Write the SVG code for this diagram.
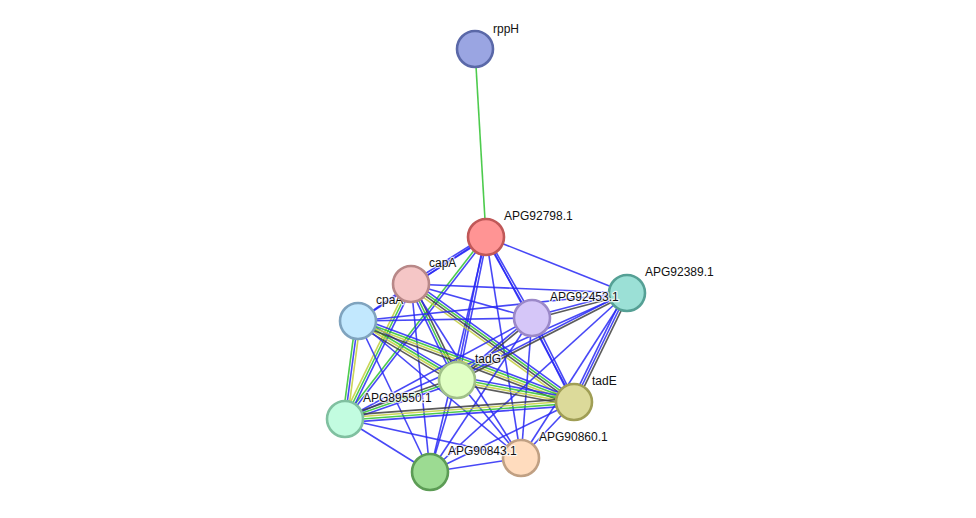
<svg xmlns="http://www.w3.org/2000/svg" width="976" height="518" viewBox="0 0 976 518">
<style>
line{stroke-width:1.6;stroke-opacity:0.85;fill:none}
.b{stroke:#2828F5}
.g{stroke:#2EC22E}
.y{stroke:#C2CE3A}
.k{stroke:#3E3E3E}
circle{stroke-width:2.6}
text{font-family:"Liberation Sans",Arial,sans-serif;font-size:12px;fill:#111;stroke:#fff;stroke-width:2.5;stroke-opacity:0.75;paint-order:stroke;stroke-linejoin:round}
</style>
<rect width="976" height="518" fill="#fff"/>
<g id="edges">
<line class="g" x1="475" y1="49" x2="486" y2="237"/>
<line class="b" x1="485.4" y1="236" x2="410.4" y2="283"/>
<line class="b" x1="486.6" y1="238" x2="411.6" y2="285"/>
<line class="b" x1="486" y1="237" x2="627" y2="293"/>
<line class="b" x1="484.96" y1="237.59" x2="530.96" y2="318.59"/>
<line class="b" x1="487.04" y1="236.41" x2="533.04" y2="317.41"/>
<line class="b" x1="484.8" y1="236.8" x2="455.8" y2="379.8"/>
<line class="b" x1="487.2" y1="237.2" x2="458.2" y2="380.2"/>
<line class="b" x1="486" y1="237" x2="574" y2="402"/>
<line class="g" x1="485.05" y1="236.26" x2="344.05" y2="418.26"/>
<line class="b" x1="486.95" y1="237.74" x2="345.95" y2="419.74"/>
<line class="b" x1="486" y1="237" x2="358" y2="321"/>
<line class="b" x1="486" y1="237" x2="430" y2="472"/>
<line class="b" x1="486" y1="237" x2="521" y2="458"/>
<line class="b" x1="411" y1="284" x2="358" y2="321"/>
<line class="b" x1="411" y1="284" x2="532" y2="318"/>
<line class="b" x1="411" y1="284" x2="627" y2="293"/>
<line class="b" x1="408.84" y1="285.04" x2="454.84" y2="381.04"/>
<line class="g" x1="411" y1="284" x2="457" y2="380"/>
<line class="k" x1="413.16" y1="282.96" x2="459.16" y2="378.96"/>
<line class="y" x1="408.89" y1="286.92" x2="571.89" y2="404.92"/>
<line class="k" x1="410.3" y1="284.97" x2="573.3" y2="402.97"/>
<line class="g" x1="411.7" y1="283.03" x2="574.7" y2="401.03"/>
<line class="b" x1="413.11" y1="281.08" x2="576.11" y2="399.08"/>
<line class="y" x1="408.84" y1="282.95" x2="342.84" y2="417.95"/>
<line class="g" x1="411" y1="284" x2="345" y2="419"/>
<line class="b" x1="413.16" y1="285.05" x2="347.16" y2="420.05"/>
<line class="b" x1="411" y1="284" x2="430" y2="472"/>
<line class="b" x1="411" y1="284" x2="521" y2="458"/>
<line class="b" x1="358" y1="321" x2="532" y2="318"/>
<line class="b" x1="358" y1="321" x2="627" y2="293"/>
<line class="k" x1="356.16" y1="324.09" x2="455.16" y2="383.09"/>
<line class="y" x1="357.39" y1="322.03" x2="456.39" y2="381.03"/>
<line class="g" x1="358.61" y1="319.97" x2="457.61" y2="378.97"/>
<line class="b" x1="359.84" y1="317.91" x2="458.84" y2="376.91"/>
<line class="k" x1="356.74" y1="324.37" x2="572.74" y2="405.37"/>
<line class="y" x1="357.58" y1="322.12" x2="573.58" y2="403.12"/>
<line class="g" x1="358.42" y1="319.88" x2="574.42" y2="400.88"/>
<line class="b" x1="359.26" y1="317.63" x2="575.26" y2="398.63"/>
<line class="g" x1="355.62" y1="320.68" x2="342.62" y2="418.68"/>
<line class="b" x1="358" y1="321" x2="345" y2="419"/>
<line class="y" x1="360.38" y1="321.32" x2="347.38" y2="419.32"/>
<line class="b" x1="358" y1="321" x2="430" y2="472"/>
<line class="b" x1="358" y1="321" x2="521" y2="458"/>
<line class="b" x1="531.69" y1="316.84" x2="626.69" y2="291.84"/>
<line class="k" x1="532.31" y1="319.16" x2="627.31" y2="294.16"/>
<line class="b" x1="531.24" y1="317.08" x2="456.24" y2="379.08"/>
<line class="k" x1="532.76" y1="318.92" x2="457.76" y2="380.92"/>
<line class="b" x1="530.93" y1="318.54" x2="572.93" y2="402.54"/>
<line class="b" x1="533.07" y1="317.46" x2="575.07" y2="401.46"/>
<line class="b" x1="532" y1="318" x2="345" y2="419"/>
<line class="b" x1="532" y1="318" x2="430" y2="472"/>
<line class="b" x1="532" y1="318" x2="521" y2="458"/>
<line class="b" x1="626.45" y1="291.93" x2="456.45" y2="378.93"/>
<line class="k" x1="627.55" y1="294.07" x2="457.55" y2="381.07"/>
<line class="b" x1="624.84" y1="291.95" x2="571.84" y2="400.95"/>
<line class="b" x1="627" y1="293" x2="574" y2="402"/>
<line class="k" x1="629.16" y1="294.05" x2="576.16" y2="403.05"/>
<line class="b" x1="627" y1="293" x2="345" y2="419"/>
<line class="b" x1="627" y1="293" x2="430" y2="472"/>
<line class="b" x1="627" y1="293" x2="521" y2="458"/>
<line class="k" x1="456.34" y1="383.54" x2="573.34" y2="405.54"/>
<line class="y" x1="456.78" y1="381.18" x2="573.78" y2="403.18"/>
<line class="g" x1="457.22" y1="378.82" x2="574.22" y2="400.82"/>
<line class="b" x1="457.66" y1="376.46" x2="574.66" y2="398.46"/>
<line class="k" x1="456.21" y1="377.73" x2="344.21" y2="416.73"/>
<line class="g" x1="457" y1="380" x2="345" y2="419"/>
<line class="b" x1="457.79" y1="382.27" x2="345.79" y2="421.27"/>
<line class="b" x1="457" y1="380" x2="430" y2="472"/>
<line class="b" x1="457" y1="380" x2="521" y2="458"/>
<line class="k" x1="573.73" y1="398.41" x2="344.73" y2="415.41"/>
<line class="y" x1="573.91" y1="400.8" x2="344.91" y2="417.8"/>
<line class="g" x1="574.09" y1="403.2" x2="345.09" y2="420.2"/>
<line class="b" x1="574.27" y1="405.59" x2="345.27" y2="422.59"/>
<line class="b" x1="574" y1="402" x2="430" y2="472"/>
<line class="b" x1="574" y1="402" x2="521" y2="458"/>
<line class="b" x1="345" y1="419" x2="430" y2="472"/>
<line class="b" x1="345" y1="419" x2="521" y2="458"/>
<line class="b" x1="430" y1="472" x2="521" y2="458"/>
</g>
<g id="rppH"><circle cx="475" cy="49" r="18" fill="#9AA5E2" stroke="#5A68A8"/><text x="493" y="33">rppH</text></g>
<g id="APG92798.1"><circle cx="486" cy="237" r="18" fill="#FF9494" stroke="#C05858"/><text x="504" y="220">APG92798.1</text></g>
<g id="APG92389.1"><circle cx="627" cy="293" r="18" fill="#9BE0D6" stroke="#55A095"/><text x="645" y="276">APG92389.1</text></g>
<g id="cpaA"><circle cx="358" cy="321" r="18" fill="#C2E8FE" stroke="#7FA3BE"/><text x="376" y="304">cpaA</text></g>
<g id="capA"><circle cx="411" cy="284" r="18" fill="#F5C6C6" stroke="#B88888"/><text x="429" y="267">capA</text></g>
<g id="APG92453.1"><circle cx="532" cy="318" r="18" fill="#D5C6F8" stroke="#9B88C8"/><text x="550" y="301">APG92453.1</text></g>
<g id="tadG"><circle cx="457" cy="380" r="18" fill="#E0FFC4" stroke="#A0C088"/><text x="475" y="363">tadG</text></g>
<g id="tadE"><circle cx="574" cy="402" r="18" fill="#DCDA9A" stroke="#A09E55"/><text x="592" y="385">tadE</text></g>
<g id="APG89550.1"><circle cx="345" cy="419" r="18" fill="#C2FCE0" stroke="#80C0A0"/><text x="363" y="402">APG89550.1</text></g>
<g id="APG90860.1"><circle cx="521" cy="458" r="18" fill="#FFDCBE" stroke="#C0A083"/><text x="539" y="441">APG90860.1</text></g>
<g id="APG90843.1"><circle cx="430" cy="472" r="18" fill="#9CDB92" stroke="#5C9C55"/><text x="448" y="455">APG90843.1</text></g>
</svg>
